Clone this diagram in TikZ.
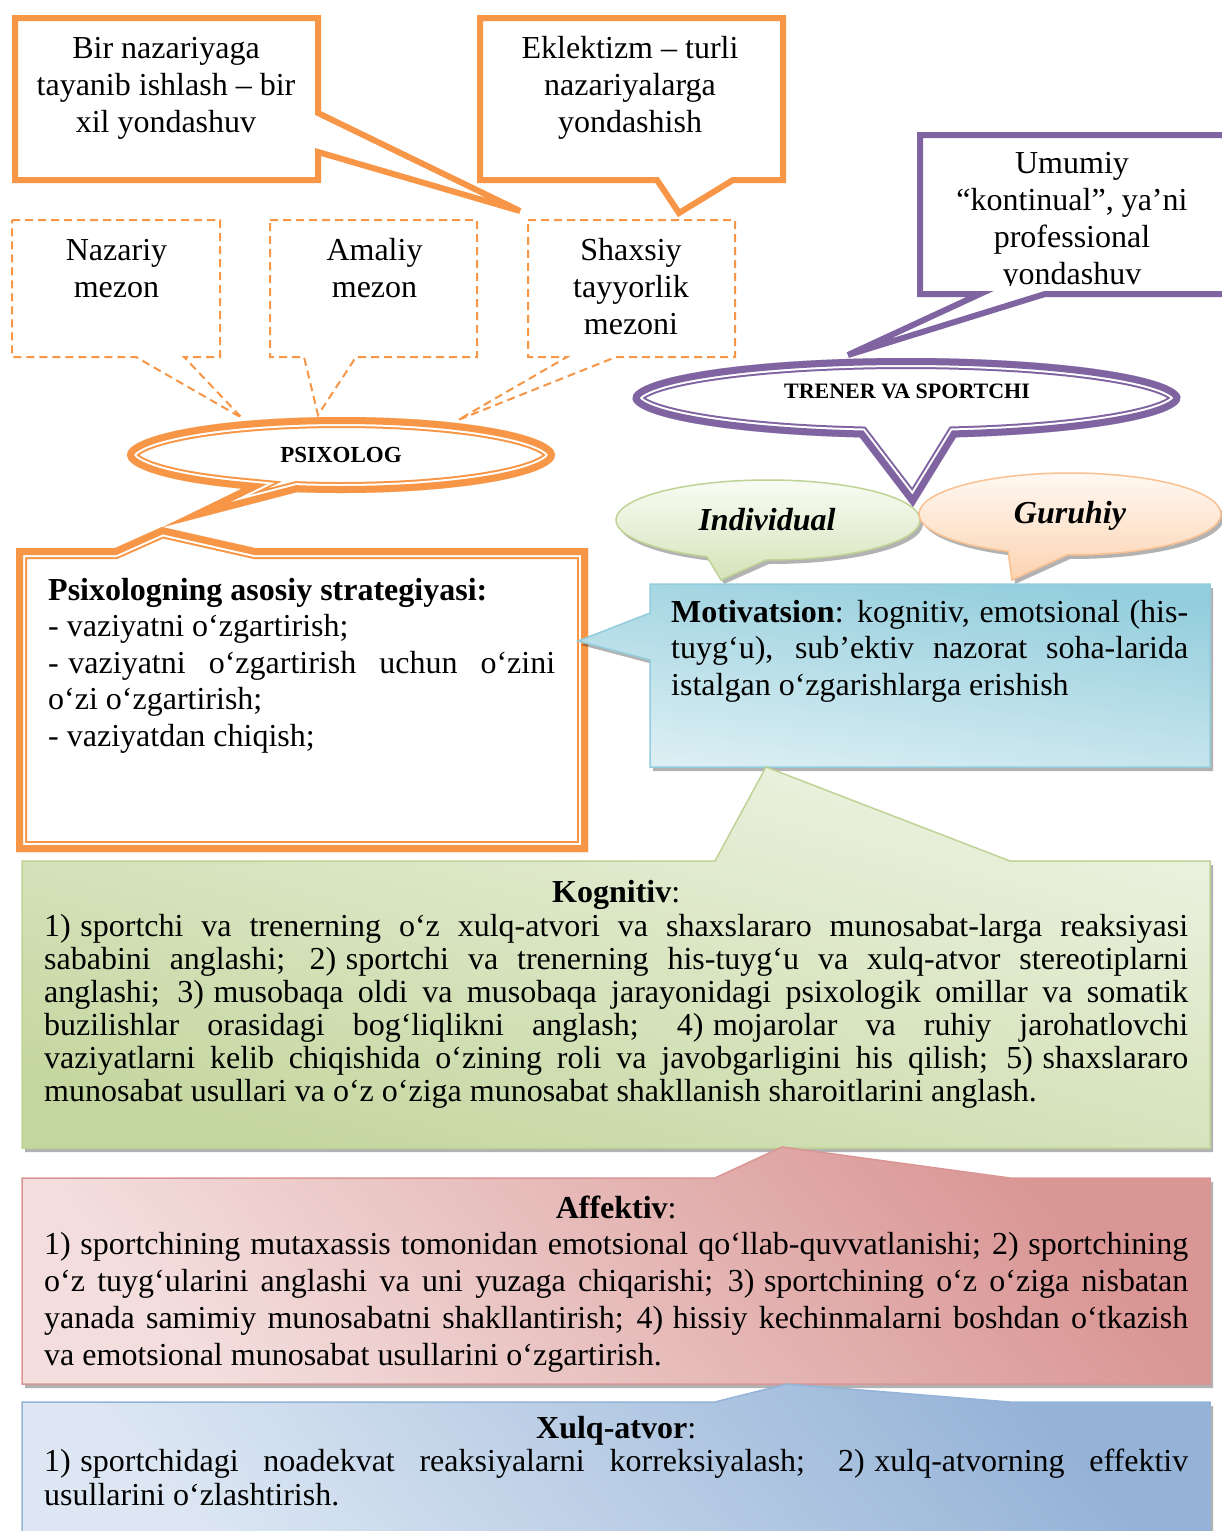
\documentclass[tikz,border=0pt]{standalone}
\usepackage{fontspec}
\setmainfont{Liberation Serif}
\definecolor{orng}{HTML}{F79646}
\definecolor{purp}{HTML}{8064A2}
\definecolor{grnL}{HTML}{EDF3E2}
\definecolor{grnD}{HTML}{C4D69F}
\definecolor{grnB}{HTML}{BFD395}
\definecolor{pnkL}{HTML}{F3DEDD}
\definecolor{pnkD}{HTML}{D99694}
\definecolor{bluL}{HTML}{DDE7F3}
\definecolor{bluD}{HTML}{95B3D7}
\definecolor{tealD}{HTML}{92CDDC}
\definecolor{tealL}{HTML}{DCEFF4}
\definecolor{tealB}{HTML}{93CDDD}
\definecolor{indT}{HTML}{FBFDF7}
\definecolor{indB}{HTML}{D5E3B9}
\definecolor{gurT}{HTML}{FFFAF5}
\definecolor{gurB}{HTML}{FCD3B1}
\definecolor{gurBo}{HTML}{FAC090}
\newcommand\fnt{\fontsize{32}{37}\selectfont}
\newcommand\fsp{\hspace{0.3em}}
\newcommand\jline[1]{\makebox[\linewidth][s]{#1}\par}
\newcommand\dbl[2]{%
  \fill[white] #2;
  \begin{scope}
    \clip #2;
    \draw[#1,line width=22pt,line join=miter] #2;
    \draw[white,line width=18pt,line join=miter] #2;
    \draw[#1,line width=14pt,line join=miter] #2;
  \end{scope}}
\newcommand\shcall[3]{%
  \fill[black,opacity=0.3,shift={(3,4)}] #3;
  \shade[#1] #3;
  \draw[#2,line width=1.5pt,line join=miter] #3;}
\begin{document}
\begin{tikzpicture}[x=1pt,y=-1pt,
  txt/.style={anchor=base,inner sep=0pt},
  txtl/.style={anchor=base west,inner sep=0pt},
  obox/.style={draw=orng,line width=6pt,fill=white,line join=miter},
  pbox/.style={draw=purp,line width=6pt,fill=white,line join=miter},
  dbox/.style={draw=orng,line width=2pt,dash pattern=on 8pt off 5pt,fill=white}]
\useasboundingbox (0,0) rectangle (1221,1531);
\fill[white] (0,0) rectangle (1221,1531);

% dashed criteria boxes
\draw[dbox] (12,220) -- (220,220) -- (220,357) -- (184,357) -- (242,418) -- (136,357) -- (12,357) -- cycle;
\draw[dbox] (270,220) -- (477,220) -- (477,357) -- (356,357) -- (318,415) -- (304,357) -- (270,357) -- cycle;
\draw[dbox] (528,220) -- (735,220) -- (735,357) -- (616,357) -- (458,420) -- (567,357) -- (528,357) -- cycle;
\node[txt] (naz) at (116.5,260) {\parbox[t]{200pt}{\centering\fnt Nazariy\\mezon}};
\node[txt] (ama) at (374.5,260) {\parbox[t]{200pt}{\centering\fnt Amaliy\\mezon}};
\node[txt] (sha) at (631,260) {\parbox[t]{200pt}{\centering\fnt Shaxsiy\\tayyorlik\\mezoni}};

% top orange callouts
\draw[obox] (15,18) -- (318,18) -- (318,113) -- (520,211) -- (318,152) -- (318,180) -- (15,180) -- cycle;
\node[txt] (bir) at (166,58) {\parbox[t]{300pt}{\centering\fnt Bir nazariyaga\\tayanib ishlash – bir\\xil yondashuv}};
\draw[obox] (480,18) -- (783,18) -- (783,180) -- (733,180) -- (679,213) -- (657,180) -- (480,180) -- cycle;
\node[txt] (ekl) at (630,58) {\parbox[t]{300pt}{\centering\fnt Eklektizm – turli\\nazariyalarga\\yondashish}};

% purple callout
\draw[pbox] (920,135) -- (1245,135) -- (1245,294) -- (1045,294) -- (848,355) -- (980,294) -- (920,294) -- cycle;
\begin{scope}
  \clip (923,138) rectangle (1221,285);
  \node[txt] (umu) at (1072,173) {\parbox[t]{300pt}{\centering\fnt Umumiy\\“kontinual”, ya’ni\\professional\\yondashuv}};
\end{scope}

% Psixologning rectangle (double line)
\dbl{orng}{(16,548) -- (115,548) -- (162,527) -- (255,548) -- (588,548) -- (588,852) -- (16,852) -- cycle}
\node[txtl] (strat) at (48,600) {\parbox[t]{507pt}{\fontsize{32}{36.5}\selectfont
  \textbf{Psixologning asosiy strategiyasi:}\par
  - vaziyatni o‘zgartirish;\par
  \jline{-\fsp vaziyatni o‘zgartirish uchun o‘zini}
  o‘zi o‘zgartirish;\par
  - vaziyatdan chiqish;}};

% PSIXOLOG ellipse
\dbl{orng}{([shift={(341,455)}]117.6:214 and 38) arc[start angle=117.6,end angle=461.9,x radius=214,y radius=38] -- (163,527) -- cycle}
\node[txt] (psi) at (341,462) {\fontsize{23}{27}\selectfont\bfseries PSIXOLOG};

% TRENER ellipse
\dbl{purp}{([shift={(906.5,398)}]99.8:274 and 40) arc[start angle=99.8,end angle=439.6,x radius=274,y radius=40] -- (913,507) -- cycle}
\node[txt] (tre) at (907,398) {\fontsize{22}{26}\selectfont\bfseries TRENER VA SPORTCHI};

% Individual / Guruhiy
\shcall{top color=indT,bottom color=indB}{grnB}{([shift={(768,520)}]113.7:152 and 40) arc[start angle=113.7,end angle=450.8,x radius=152,y radius=40] -- (721,580) -- cycle}
\node[txt] (ind) at (767,530) {\fontsize{32}{37}\selectfont\bfseries\itshape Individual};
\shcall{top color=gurT,bottom color=gurB}{gurBo}{([shift={(1070,514)}]114.2:151 and 41) arc[start angle=114.2,end angle=451.1,x radius=151,y radius=41] -- (1012,580) -- cycle}
\node[txt] (gur) at (1070,523) {\fontsize{32}{37}\selectfont\bfseries\itshape Guruhiy};

% Motivatsion
\shcall{top color=tealD,bottom color=tealL,shading angle=-8}{tealB}{(650,584) -- (1210,584) -- (1210,767) -- (650,767) -- (650,660) -- (578,641) -- (650,613) -- cycle}
\node[txtl] (mot) at (671,622) {\parbox[t]{517pt}{\fontsize{32}{36.5}\selectfont
  \jline{\textbf{Motivatsion}: kognitiv, emotsional (his-}
  \jline{tuyg‘u), sub’ektiv nazorat soha-larida}
  istalgan o‘zgarishlarga erishish}};

% Kognitiv
\shcall{top color=grnL,bottom color=grnD,shading angle=-15}{grnB}{(22,861) -- (715,861) -- (766,767) -- (1010,861) -- (1210,861) -- (1210,1148) -- (22,1148) -- cycle}
\node[txtl] (kog) at (44,902) {\parbox[t]{1144pt}{\fontsize{32}{33}\selectfont
  \makebox[\linewidth][c]{\textbf{Kognitiv}:}\par\vspace{1pt}
  \jline{1)\fsp sportchi va trenerning o‘z xulq-atvori va shaxslararo munosabat-larga reaksiyasi}
  \jline{sababini anglashi; 2)\fsp sportchi va trenerning his-tuyg‘u va xulq-atvor stereotiplarni}
  \jline{anglashi; 3)\fsp musobaqa oldi va musobaqa jarayonidagi psixologik omillar va somatik}
  \jline{buzilishlar orasidagi bog‘liqlikni anglash; 4)\fsp mojarolar va ruhiy jarohatlovchi}
  \jline{vaziyatlarni kelib chiqishida o‘zining roli va javobgarligini his qilish; 5)\fsp shaxslararo}
  munosabat usullari va o‘z o‘ziga munosabat shakllanish sharoitlarini anglash.}};

% Affektiv
\shcall{top color=pnkD,bottom color=pnkL,shading angle=-50}{pnkD}{(22,1178) -- (715,1178) -- (782,1147) -- (1010,1178) -- (1210,1178) -- (1210,1384) -- (22,1384) -- cycle}
\node[txtl] (aff) at (44,1218) {\parbox[t]{1144pt}{\fontsize{32}{36.8}\selectfont
  \makebox[\linewidth][c]{\textbf{Affektiv}:}\par
  \jline{1)\fsp sportchining mutaxassis tomonidan emotsional qo‘llab-quvvatlanishi; 2)\fsp sportchining}
  \jline{o‘z tuyg‘ularini anglashi va uni yuzaga chiqarishi; 3)\fsp sportchining o‘z o‘ziga nisbatan}
  \jline{yanada samimiy munosabatni shakllantirish; 4)\fsp hissiy kechinmalarni boshdan o‘tkazish}
  va emotsional munosabat usullarini o‘zgartirish.}};

% Xulq-atvor
\shcall{top color=bluD,bottom color=bluL,shading angle=-50}{bluD}{(22,1402) -- (715,1402) -- (787,1384) -- (1010,1402) -- (1210,1402) -- (1210,1560) -- (22,1560) -- cycle}
\node[txtl] (xul) at (44,1438) {\parbox[t]{1144pt}{\fontsize{32}{33.5}\selectfont
  \makebox[\linewidth][c]{\textbf{Xulq-atvor}:}\par
  \jline{1)\fsp sportchidagi noadekvat reaksiyalarni korreksiyalash; 2)\fsp xulq-atvorning effektiv}
  usullarini o‘zlashtirish.}};
\end{tikzpicture}
\end{document}
